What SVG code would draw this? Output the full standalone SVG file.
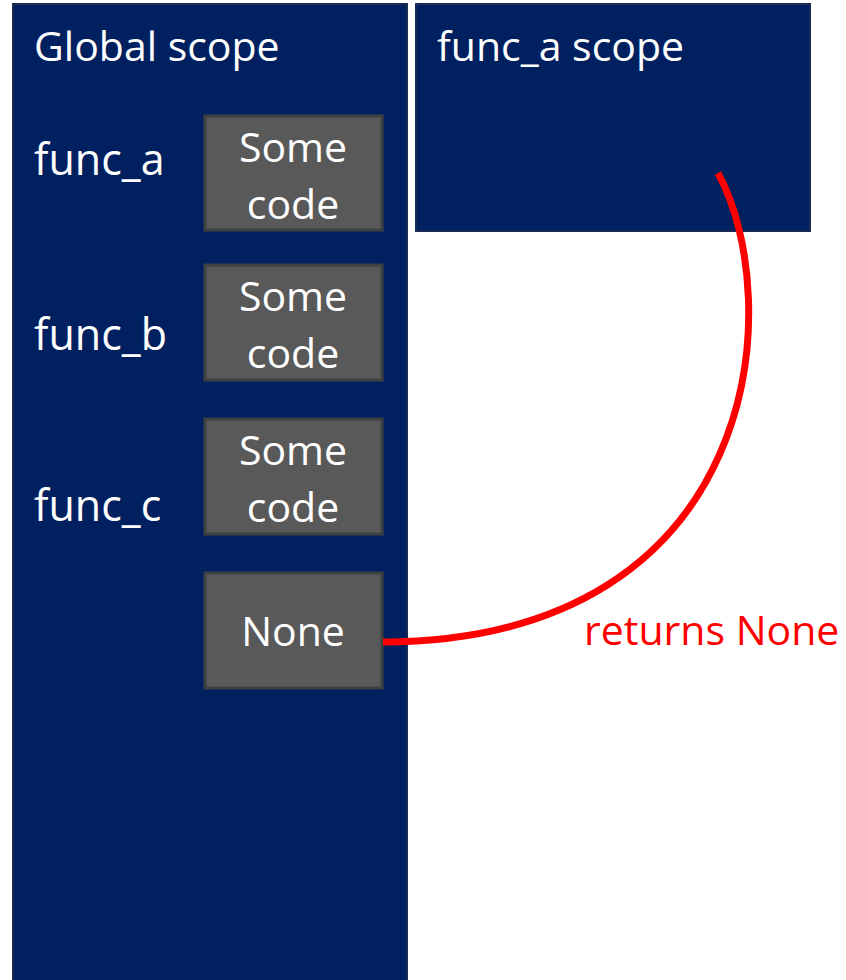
<svg xmlns="http://www.w3.org/2000/svg" width="846" height="980" viewBox="0 0 846 980">
<style>
.scope{fill:#002060;stroke:#1a2b55;stroke-width:2}
.code{fill:#595959;stroke:#404040;stroke-width:3}
text{font-family:"Open Sans","Noto Sans",sans-serif;font-size:41px;fill:#ffffff}
.lbl{font-size:43px}
.mid{text-anchor:middle}
.red{fill:#ff0000}
</style>
<rect width="846" height="980" fill="#ffffff"/>
<g id="global-scope">
<rect class="scope" x="13" y="4" width="394" height="990"/>
<text x="34" y="61">Global scope</text>
</g>
<g id="func-a-scope">
<rect class="scope" x="416" y="4" width="394" height="227"/>
<text x="437" y="61">func_a scope</text>
</g>
<g id="func-a">
<text class="lbl" x="34" y="175">func_a</text>
<rect class="code" x="205" y="116" width="177" height="114"/>
<text class="mid" x="293" y="162">Some</text>
<text class="mid" x="293" y="219">code</text>
</g>
<g id="func-b">
<text class="lbl" x="34" y="350">func_b</text>
<rect class="code" x="205" y="265" width="177" height="115"/>
<text class="mid" x="293" y="311">Some</text>
<text class="mid" x="293" y="368">code</text>
</g>
<g id="func-c">
<text class="lbl" x="34" y="521">func_c</text>
<rect class="code" x="205" y="419" width="177" height="115"/>
<text class="mid" x="293" y="465">Some</text>
<text class="mid" x="293" y="522">code</text>
</g>
<g id="none">
<rect class="code" x="205" y="573" width="177" height="115"/>
<text class="mid" x="293" y="646">None</text>
</g>
<g id="connectors">
<path d="M 718 173 C 787 300, 765 640, 383 642" fill="none" stroke="#ff0000" stroke-width="7"/>
<text class="red" x="584" y="645">returns None</text>
</g>
</svg>
